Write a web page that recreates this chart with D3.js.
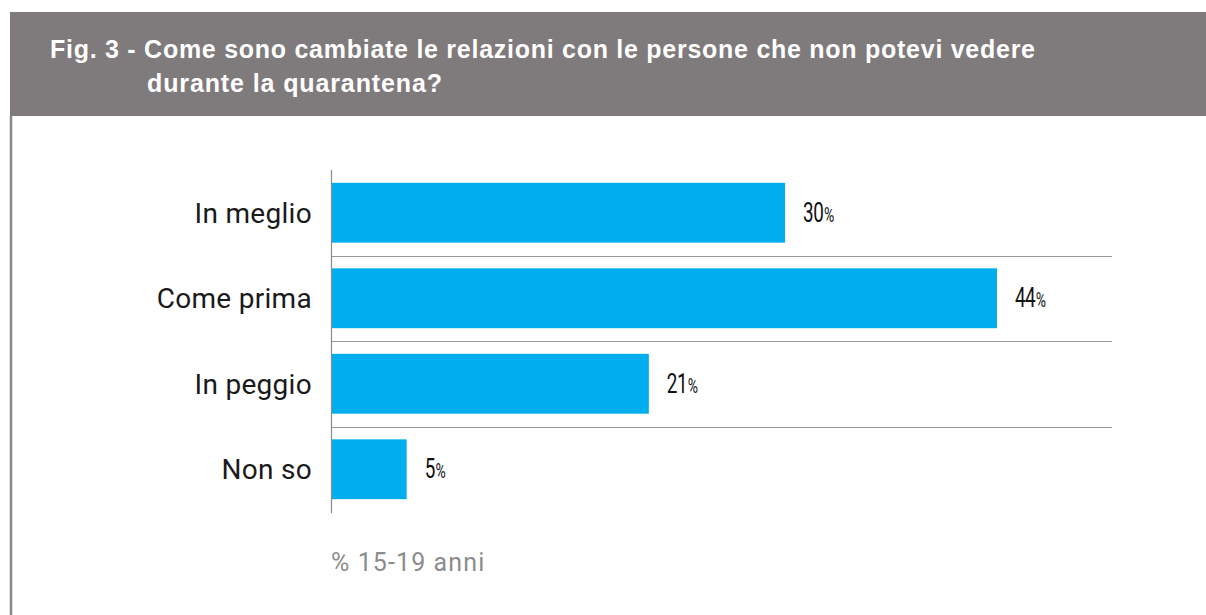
<!DOCTYPE html>
<html><head><meta charset="utf-8">
<script src="https://cdn.jsdelivr.net/npm/d3@7"></script>
<style>body{margin:0;background:#fff}svg{display:block}</style>
</head><body>
<svg id="c" width="1206" height="615"></svg>
<script>
const categories = ["In meglio", "Come prima", "In peggio", "Non so"];
const values = [30, 44, 21, 5];
const titleLines = ["Fig. 3 - Come sono cambiate le relazioni con le persone che non potevi vedere", "durante la quarantena?"];
const footnote = "% 15-19 anni";

const svg = d3.select("#c");
// header band
svg.append("rect").attr("x", 10).attr("y", 12).attr("width", 1196).attr("height", 104).attr("fill", "#7f7a7b");
svg.append("line").attr("x1", 11).attr("x2", 11).attr("y1", 116).attr("y2", 615).attr("stroke", "#8a8687").attr("stroke-width", 2.5);
const tt = svg.append("text").attr("fill", "#fff").attr("font-family", "Liberation Sans, Arial, sans-serif").attr("font-weight", "bold").attr("font-size", 25);
tt.append("tspan").attr("x", 50).attr("y", 58).attr("textLength", 985).attr("lengthAdjust", "spacing").text(titleLines[0]);
tt.append("tspan").attr("x", 147).attr("y", 92).attr("textLength", 295).attr("lengthAdjust", "spacing").text(titleLines[1]);

const x = d3.scaleLinear().domain([0, 44]).range([331, 997]);
const y = d3.scaleBand().domain(categories).range([170, 512]).paddingInner(0.3).paddingOuter(0.15);

// separators
const step = y.step();
categories.slice(1).forEach(c => {
  const yy = Math.round(y(c) - step * y.paddingInner() / 2) + 0.5;
  svg.append("line").attr("x1", 331).attr("x2", 1112).attr("y1", yy).attr("y2", yy)
    .attr("stroke", "#9a9a9a").attr("stroke-width", 1.2);
});

svg.selectAll("rect.bar").data(categories).join("rect").attr("class", "bar")
  .attr("x", x(0)).attr("y", d => y(d)).attr("height", y.bandwidth())
  .attr("width", (d, i) => x(values[i]) - x(0)).attr("fill", "#00aeef");

svg.append("line").attr("x1", 331.5).attr("x2", 331.5).attr("y1", 170).attr("y2", 513).attr("stroke", "#8a8a8a").attr("stroke-width", 1.2);

svg.selectAll("text.cat").data(categories).join("text").attr("class", "cat")
  .attr("x", 312).attr("y", d => y(d) + y.bandwidth() / 2 + 10).attr("text-anchor", "end")
  .attr("font-family", "Roboto, 'Liberation Sans', sans-serif").attr("font-size", 28).attr("letter-spacing", 0.3)
  .attr("fill", "#1a1a1a").text(d => d);

const vl = svg.selectAll("text.val").data(categories).join("text").attr("class", "val")
  .attr("transform", (d, i) => `translate(${x(values[i]) + 18},${y(d) + y.bandwidth() / 2 + 9}) scale(0.7,1)`)
  .attr("font-family", "Roboto, 'Liberation Sans', sans-serif").attr("fill", "#111");
vl.append("tspan").attr("font-size", 27).attr("letter-spacing", -0.8).text((d, i) => values[i]);
vl.append("tspan").attr("font-size", 20).attr("dx", 1).text("%");

svg.append("text").attr("x", 331).attr("y", 571).attr("font-family", "Roboto, 'Liberation Sans', sans-serif")
  .attr("font-size", 25).attr("letter-spacing", 1.1).attr("fill", "#8c8c8c").text(footnote);
</script>
</body></html>
